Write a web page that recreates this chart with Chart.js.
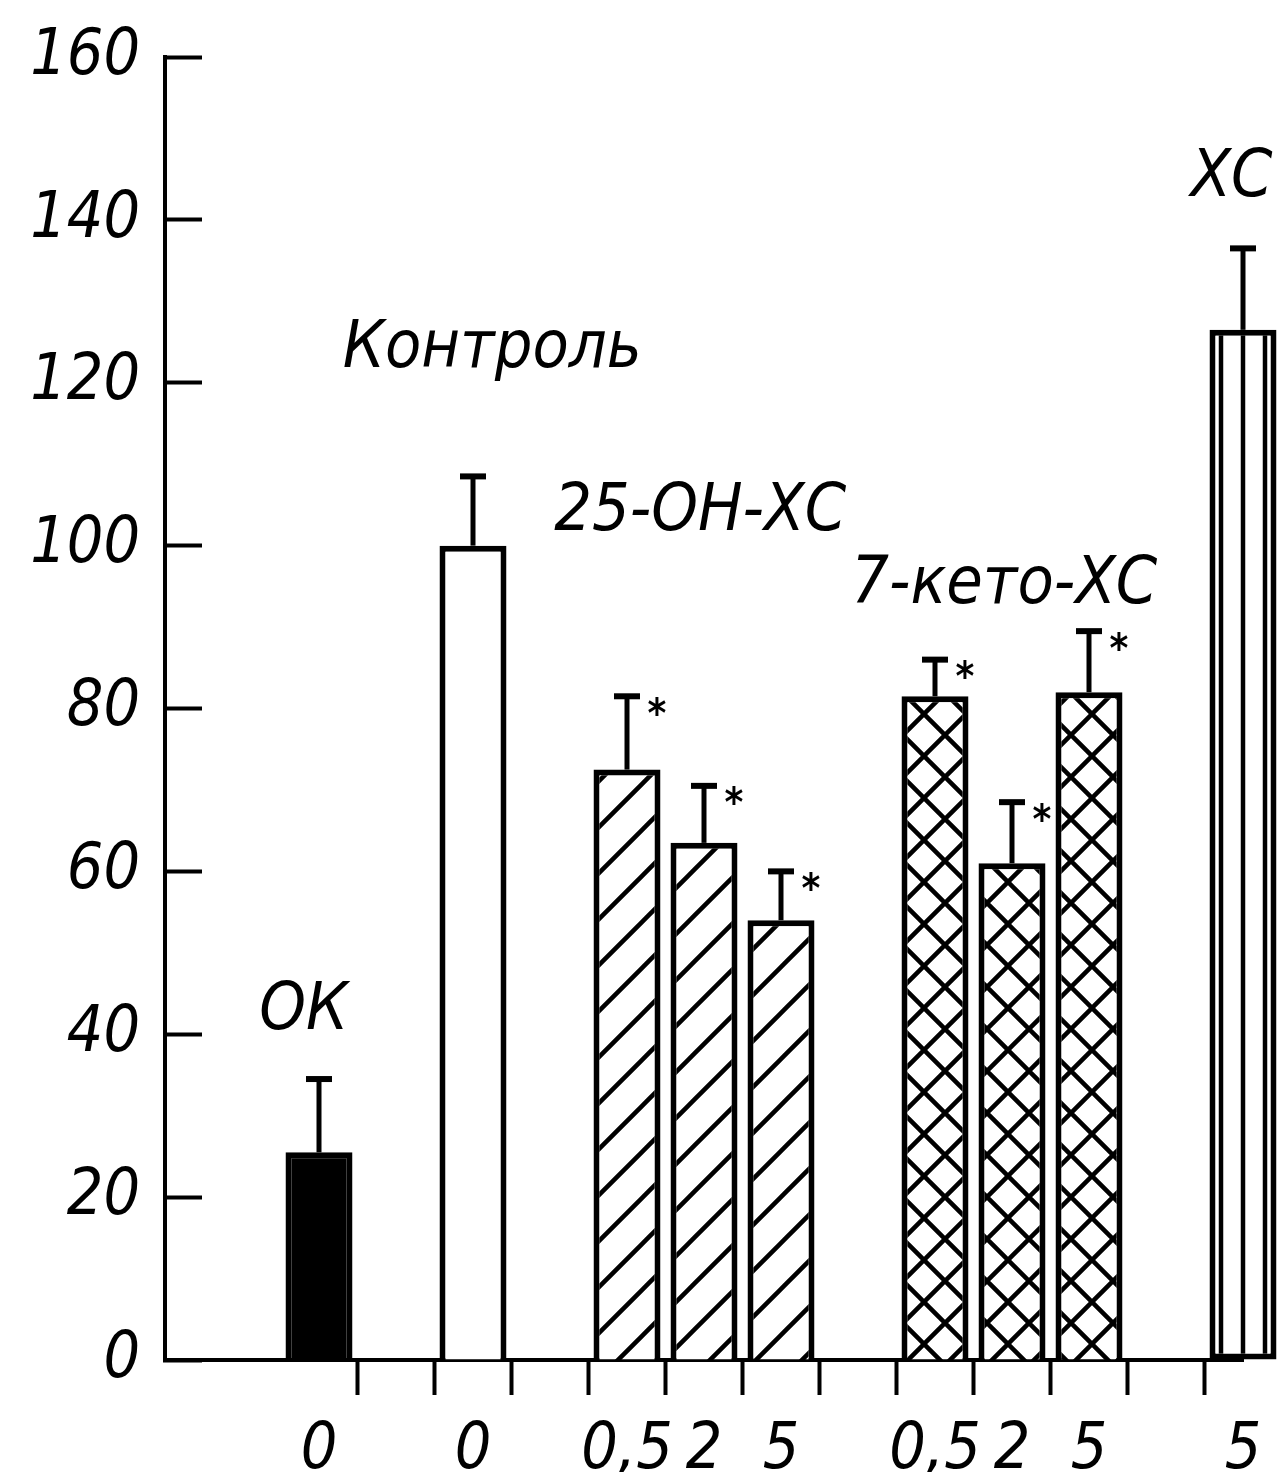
<!DOCTYPE html>
<html>
<head>
<meta charset="utf-8">
<script src="https://cdn.jsdelivr.net/npm/chart.js@4.4.1/dist/chart.umd.min.js"></script>
<style>
  html, body { margin: 0; background: #fff; }
</style>
</head>
<body>
<canvas id="chart" width="1287" height="1472"></canvas>
<script>
// slots along x: blanks are gaps between groups
const categories = ["", "", "0", "", "0", "", "0,5", "2", "5", "", "0,5", "2", "5", "", "5"];
const slotGroup  = ["", "", "ok", "", "control", "", "oh25", "oh25", "oh25", "", "keto", "keto", "keto", "", "chol"];

const okValues      = [25.5];
const okErr         = [9];
const controlValues = [100];
const controlErr    = [8.5];
const oh25Values    = [72.5, 63.5, 54];
const oh25Err       = [9, 7, 6];
const ketoValues    = [81.5, 61, 82];
const ketoErr       = [4.5, 7.5, 7.5];
const cholValues    = [126.5];
const cholErr       = [10];

const significant = { ok: false, control: false, oh25: true, keto: true, chol: false };

const yTicks = [0, 20, 40, 60, 80, 100, 120, 140, 160];

const FONT = "'DejaVu Sans Condensed', 'DejaVu Sans', sans-serif";

// hatch patterns
function makePattern(size, draw) {
    const c = document.createElement("canvas");
    c.width = size; c.height = size;
    const g = c.getContext("2d");
    g.fillStyle = "#fff";
    g.fillRect(0, 0, size, size);
    g.strokeStyle = "#000";
    g.lineWidth = 4.5;
    draw(g, size);
    return g.createPattern(c, "repeat");
}
const ctx = document.getElementById("chart").getContext("2d");

const diagonal = makePattern(46, (g, s) => {
    g.beginPath();
    g.moveTo(-4, s + 4); g.lineTo(s + 4, -4);
    g.moveTo(-4, 4); g.lineTo(4, -4);
    g.moveTo(s - 4, s + 4); g.lineTo(s + 4, s - 4);
    g.stroke();
});
const crossed = makePattern(42, (g, s) => {
    g.beginPath();
    g.moveTo(-2, -2); g.lineTo(s + 2, s + 2);
    g.moveTo(s + 2, -2); g.lineTo(-2, s + 2);
    g.stroke();
});
const vertical = makePattern(22, (g, s) => {
    g.beginPath();
    g.moveTo(s / 2, 0); g.lineTo(s / 2, s);
    g.stroke();
});

const groups = {
    ok:      { values: okValues,      err: okErr,      fill: "#000" },
    control: { values: controlValues, err: controlErr, fill: "#fff" },
    oh25:    { values: oh25Values,    err: oh25Err,    fill: diagonal },
    keto:    { values: ketoValues,    err: ketoErr,    fill: crossed },
    chol:    { values: cholValues,    err: cholErr,    fill: vertical },
};

// walk the slots and pull each group's values in order
const barData = [], errData = [], fills = [], sigMarks = [];
const seen = {};
slotGroup.forEach(name => {
    if (!name) { barData.push(null); errData.push(null); fills.push("#fff"); sigMarks.push(false); return; }
    const k = seen[name] || 0;
    seen[name] = k + 1;
    barData.push(groups[name].values[k]);
    errData.push(groups[name].err[k]);
    fills.push(groups[name].fill);
    sigMarks.push(significant[name]);
});

// text above groups, placed in data units
const groupLabels = [
    { text: "ОК",        x: 1.8,   y: 42.8 },
    { text: "Контроль",  x: 4.25,  y: 124 },
    { text: "25-ОН-ХС",  x: 6.95,  y: 104 },
    { text: "7-кето-ХС", x: 10.9,  y: 95 },
    { text: "ХС",        x: 13.85, y: 145 },
];

const errorBars = {
    id: "errorBars",
    afterDatasetsDraw(chart) {
        const c = chart.ctx;
        const y = chart.scales.y;
        const meta = chart.getDatasetMeta(0);
        c.save();
        c.strokeStyle = "#000";
        c.fillStyle = "#000";
        meta.data.forEach((bar, i) => {
            if (barData[i] == null) return;
            const top = y.getPixelForValue(barData[i] + errData[i]);
            c.lineWidth = 5;
            c.beginPath();
            c.moveTo(bar.x, bar.y);
            c.lineTo(bar.x, top);
            c.stroke();
            c.lineWidth = 6;
            c.beginPath();
            c.moveTo(bar.x - 13, top);
            c.lineTo(bar.x + 13, top);
            c.stroke();
            if (sigMarks[i]) {
                c.font = "bold 40px " + FONT;
                c.textAlign = "center";
                c.textBaseline = "middle";
                c.fillText("*", bar.x + 30, top + 20);
            }
        });
        c.restore();
    }
};

const annotations = {
    id: "annotations",
    afterDraw(chart) {
        const c = chart.ctx;
        const xs = chart.scales.x, ys = chart.scales.y;
        c.save();
        c.fillStyle = "#000";
        c.font = "italic 66px " + FONT;
        c.textAlign = "center";
        c.textBaseline = "middle";
        groupLabels.forEach(l => {
            c.fillText(l.text, xs.getPixelForValue(l.x), ys.getPixelForValue(l.y));
        });
        c.restore();
    }
};

new Chart(ctx, {
    type: "bar",
    data: {
        labels: categories,
        datasets: [{
            data: barData,
            backgroundColor: fills,
            borderColor: "#000",
            borderWidth: 6,
            // the last bar sticks out past the axis line, so it gets its own bottom edge
            borderSkipped: c => slotGroup[c.dataIndex] === "chol" ? false : "start",
            categoryPercentage: 1,
            barPercentage: 0.87,
            clip: false,
        }],
    },
    options: {
        responsive: false,
        animation: false,
        devicePixelRatio: 1,
        layout: { padding: { top: 57, right: 44, left: 0, bottom: 0 } },
        plugins: { legend: { display: false }, tooltip: { enabled: false } },
        scales: {
            x: {
                type: "category",
                offset: false,
                grid: {
                    drawOnChartArea: false,
                    offset: true,
                    tickLength: 35,
                    tickWidth: 4,
                    // ticks only between bars, from after the ОК bar on
                    tickColor: c => (c.index >= 3 && c.index < categories.length) ? "#000" : "rgba(0,0,0,0)",
                },
                border: { display: true, color: "#000", width: 4 },
                ticks: {
                    autoSkip: false,
                    maxRotation: 0,
                    padding: 18,
                    color: "#000",
                    font: { family: FONT, size: 64, style: "italic" },
                },
                afterFit: s => { s.height = 112; },
            },
            y: {
                min: 0,
                max: 160,
                afterBuildTicks: s => { s.ticks = yTicks.map(v => ({ value: v })); },
                grid: {
                    drawOnChartArea: false,
                    tickLength: -37,
                    tickWidth: 4,
                    tickColor: "#000",
                },
                border: { display: true, color: "#000", width: 4 },
                ticks: {
                    padding: 62,
                    color: "#000",
                    font: { family: FONT, size: 64, style: "italic" },
                },
                afterFit: s => { s.width = 165; s.paddingTop = 0; s.paddingBottom = 0; },
            },
        },
    },
    plugins: [errorBars, annotations],
});
</script>
</body>
</html>
